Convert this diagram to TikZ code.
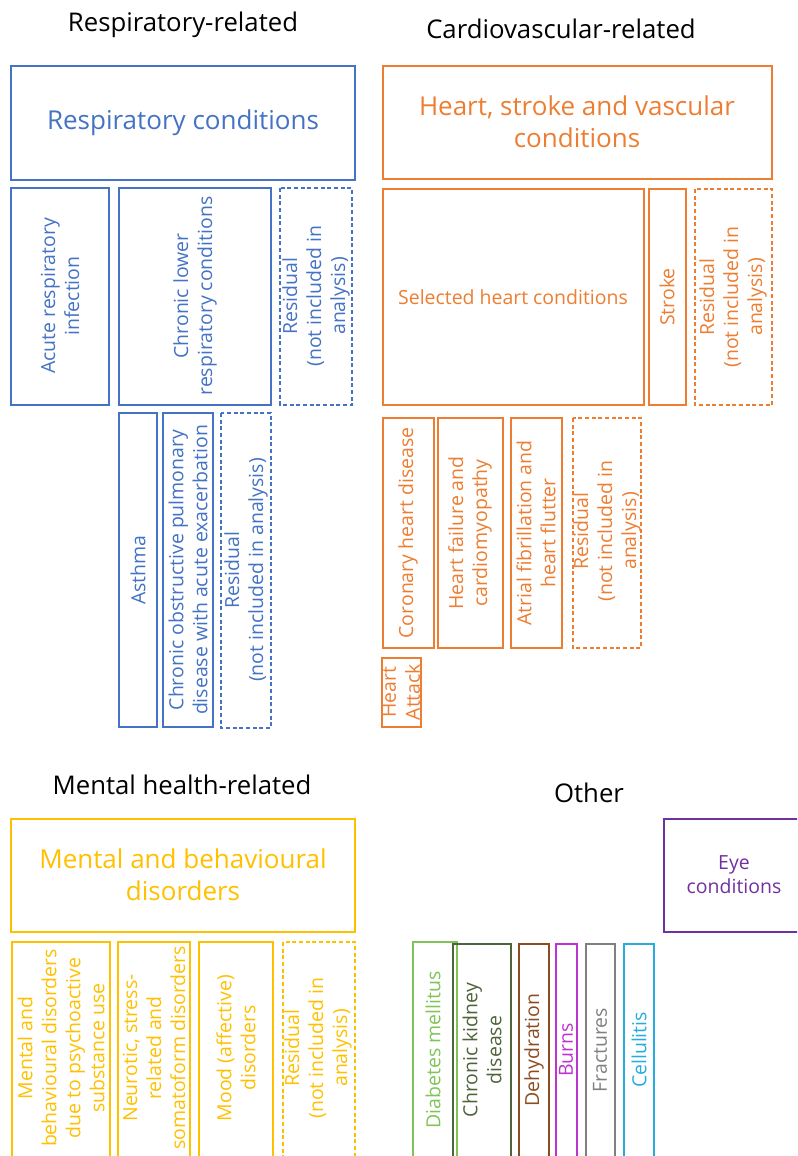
\documentclass[tikz,border=0pt]{standalone}
\usepackage{fontspec}
\setmainfont{Open Sans}
\usepackage{tikz}
\usepackage{xcolor}
\definecolor{respblue}{RGB}{68,114,196}
\definecolor{cardorange}{RGB}{237,125,49}
\definecolor{mentalgold}{RGB}{255,192,0}
\definecolor{eyepurple}{RGB}{112,48,160}
\definecolor{diabgreen}{RGB}{128,196,88}
\definecolor{kidneygreen}{RGB}{78,100,58}
\definecolor{dehydbrown}{RGB}{140,76,34}
\definecolor{burnmagenta}{RGB}{190,50,210}
\definecolor{fracgray}{RGB}{128,128,128}
\definecolor{cellcyan}{RGB}{40,172,224}
\tikzset{
  catbox/.style={draw, line width=0.9pt},
  residbox/.style={catbox, dash pattern=on 3pt off 2pt},
  head/.style={font=\fontsize{19.3}{23}\selectfont, text=black},
  bigtxt/.style={font=\fontsize{19.5}{24}\selectfont, align=center},
  vtxt/.style={rotate=90, font=\fontsize{14.6}{18}\selectfont, align=center},
  htxt/.style={font=\fontsize{14.6}{18}\selectfont, align=center},
}

\begin{document}
\begin{tikzpicture}[x=0.75pt, y=-0.75pt, every node/.style={inner sep=0pt}]
        \useasboundingbox (0,0) rectangle (797,1156);
        \clip (0,0) rectangle (797,1156);
        % respiratory
        \node[head] (resphead) at (183,25) {Respiratory-related};
        \draw[catbox, respblue] (11,66) rectangle (355,180);
        \node[bigtxt, text=respblue] (resp) at (183,123) {Respiratory conditions};
        \draw[catbox, respblue] (11,188) rectangle (109,405);
        \node[vtxt, text=respblue] (acute) at (60,296) {Acute respiratory\\infection};
        \draw[catbox, respblue] (119,188) rectangle (271,405);
        \node[vtxt, text=respblue] (chronic) at (195,296) {Chronic lower\\respiratory conditions};
        \draw[residbox, respblue] (280,188) rectangle (352,405);
        \node[vtxt, text=respblue] (respres) at (316,296) {Residual\\(not included in\\analysis)};
        \draw[catbox, respblue] (119,413) rectangle (157,727);
        \node[vtxt, text=respblue] (asthma) at (138,570) {Asthma};
        \draw[catbox, respblue] (163,413) rectangle (213,727);
        \node[vtxt, text=respblue] (copd) at (188,570) {Chronic obstructive pulmonary\\disease with acute exacerbation};
        \draw[residbox, respblue] (221,413) rectangle (271,728);
        \node[vtxt, text=respblue] (chronres) at (246,570) {Residual\\(not included in analysis)};
        % cardiovascular
        \node[head] (cardhead) at (561,29) {Cardiovascular-related};
        \draw[catbox, cardorange] (383,66) rectangle (772,179);
        \node[bigtxt, text=cardorange] (card) at (577,122) {Heart, stroke and vascular\\conditions};
        \draw[catbox, cardorange] (383,189) rectangle (644,405);
        \node[htxt, text=cardorange] (selheart) at (513,297) {Selected heart conditions};
        \draw[catbox, cardorange] (649,189) rectangle (686,405);
        \node[vtxt, text=cardorange] (stroke) at (667,297) {Stroke};
        \draw[residbox, cardorange] (695,189) rectangle (772,405);
        \node[vtxt, text=cardorange] (cardres) at (733,297) {Residual\\(not included in\\analysis)};
        \draw[catbox, cardorange] (383,418) rectangle (434,648);
        \node[vtxt, text=cardorange] (coronary) at (408,533) {Coronary heart disease};
        \draw[catbox, cardorange] (438,418) rectangle (503,648);
        \node[vtxt, text=cardorange] (failure) at (470,533) {Heart failure and\\cardiomyopathy};
        \draw[catbox, cardorange] (511,418) rectangle (562,648);
        \node[vtxt, text=cardorange] (atrial) at (536,533) {Atrial fibrillation and\\heart flutter};
        \draw[residbox, cardorange] (573,418) rectangle (641,648);
        \node[vtxt, text=cardorange] (heartres) at (607,531) {Residual\\(not included in\\analysis)};
        \draw[catbox, cardorange] (382,658) rectangle (421,727);
        \node[vtxt, text=cardorange] (attack) at (401,692) {Heart\\Attack};
        % mental health
        \node[head] (menthead) at (182,785) {Mental health-related};
        \draw[catbox, mentalgold] (11,819) rectangle (355,932);
        \node[bigtxt, text=mentalgold] (mental) at (183,875) {Mental and behavioural\\disorders};
        \draw[catbox, mentalgold] (12,942) rectangle (110,1160);
        \node[vtxt, text=mentalgold] (psycho) at (61,1048) {Mental and\\behavioural disorders\\due to psychoactive\\substance use};
        \draw[catbox, mentalgold] (118,942) rectangle (190,1160);
        \node[vtxt, text=mentalgold] (neurotic) at (154,1048) {Neurotic, stress-\\related and\\somatoform disorders};
        \draw[catbox, mentalgold] (199,942) rectangle (273,1160);
        \node[vtxt, text=mentalgold] (mood) at (236,1048) {Mood (affective)\\disorders};
        \draw[residbox, mentalgold] (283,942) rectangle (355,1160);
        \node[vtxt, text=mentalgold] (mentres) at (318,1048) {Residual\\(not included in\\analysis)};
        % other
        \node[head] (othhead) at (589,793) {Other};
        \draw[catbox, eyepurple] (664,819) rectangle (804,932);
        \node[htxt, text=eyepurple] (eye) at (734,875) {Eye\\conditions};
        \draw[catbox, diabgreen] (413,942) rectangle (457,1160);
        \node[vtxt, text=diabgreen] (diabetes) at (433,1050) {Diabetes mellitus};
        \draw[catbox, kidneygreen] (453,944) rectangle (511,1160);
        \node[vtxt, text=kidneygreen] (kidney) at (482,1050) {Chronic kidney\\disease};
        \draw[catbox, dehydbrown] (519,944) rectangle (549,1160);
        \node[vtxt, text=dehydbrown] (dehyd) at (534,1050) {Dehydration};
        \draw[catbox, burnmagenta] (556,944) rectangle (577,1160);
        \node[vtxt, text=burnmagenta] (burns) at (566,1050) {Burns};
        \draw[catbox, fracgray] (586,944) rectangle (615,1160);
        \node[vtxt, text=fracgray] (fract) at (600,1050) {Fractures};
        \draw[catbox, cellcyan] (624,944) rectangle (654,1160);
        \node[vtxt, text=cellcyan] (cellul) at (639,1050) {Cellulitis};
    \end{tikzpicture}
\end{document}
